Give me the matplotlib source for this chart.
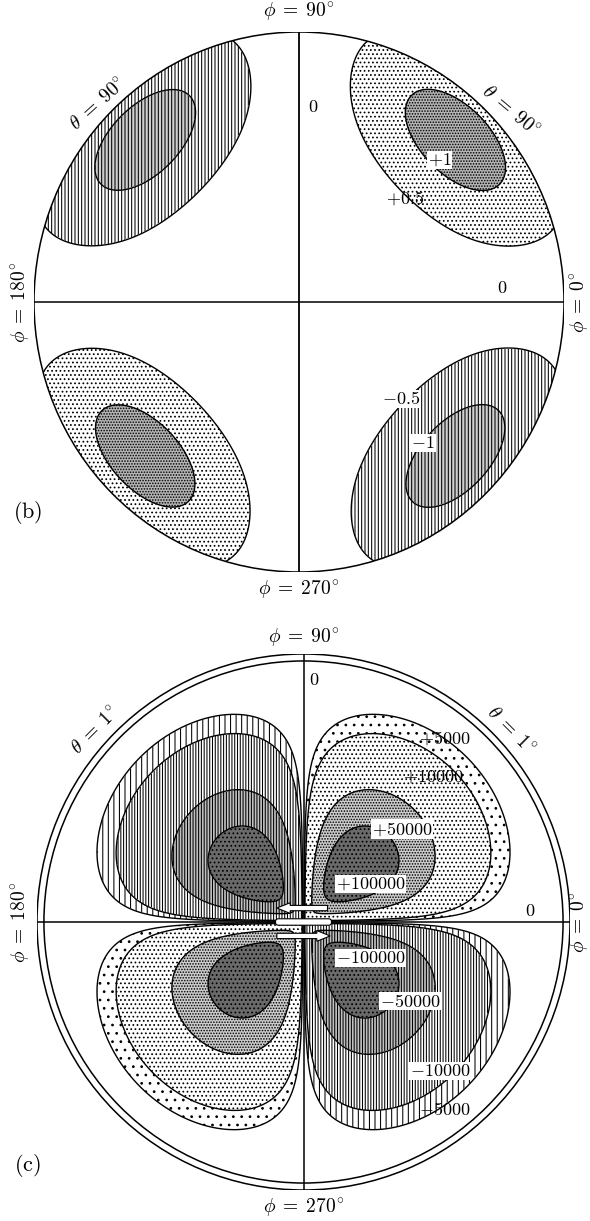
import numpy as np
import matplotlib
matplotlib.use("Agg")
import matplotlib.pyplot as plt
from matplotlib.patches import Circle, FancyArrow, FancyBboxPatch

plt.rcParams["mathtext.fontset"] = "cm"
plt.rcParams["font.family"] = "serif"
plt.rcParams["font.serif"] = ["cmr10", "DejaVu Serif"]
plt.rcParams["hatch.color"] = "black"
plt.rcParams["hatch.linewidth"] = 0.75

# panel (b): four elliptical lobes, positions in units of the circle radius
lobe_x = [0.59, -0.58, -0.58, 0.59]
lobe_y = [0.60, 0.60, -0.57, -0.57]
lobe_sign = [1, -1, 1, -1]
lobe_peak = 1.2
lobe_sigma_tan = 0.39
lobe_sigma_rad = 0.21
levels_b = [-10, -1, -0.5, 0.5, 1, 10]
colors_b = ["#cfcfcf", "white", "white", "white", "#b4b4b4"]
hatches_b = ["|||||", "|||||", "", "....", "......"]
line_levels_b = [-1, -0.5, 0.5, 1]

# panel (c): sin(2 phi) petals with a peaked radial profile
petal_peak = 145000
petal_r0 = 0.27
petal_k = 6.6
inner_ring = 0.974
levels_c = [-1e9, -100000, -50000, -10000, -5000, 5000, 10000, 50000, 100000, 1e9]
colors_c = ["#6a6a6a", "#c0c0c0", "white", "white", "white",
            "white", "white", "#cccccc", "#6a6a6a"]
hatches_c = ["....", "||||||", "||||||", "|||", "", "..", "....", "......", "...."]
line_levels_c = [-100000, -50000, -10000, -5000, 5000, 10000, 50000, 100000]

# white markers at the singular centre of (c): (y, x_start, x_end, head)
centre_marks = [(0.052, 0.09, -0.10, "left"), (0.0, -0.105, 0.105, "none"),
                (-0.052, -0.10, 0.10, "right")]

# value labels: (text, x, y, boxed)
labels_b = [("0", 0.053, 0.722, False), ("0", 0.766, 0.052, False),
            ("+1", 0.532, 0.526, True), ("+0.5", 0.40, 0.385, False),
            ("-0.5", 0.385, -0.359, True), ("-1", 0.468, -0.522, True)]
labels_c = [("0", 0.039, 0.903, False), ("0", 0.85, 0.041, False),
            ("+5000", 0.53, 0.687, False), ("+10000", 0.486, 0.541, False),
            ("+50000", 0.37, 0.347, True), ("+100000", 0.253, 0.142, True),
            ("-100000", 0.253, -0.134, True), ("-50000", 0.40, -0.295, True),
            ("-10000", 0.512, -0.556, True), ("-5000", 0.53, -0.698, False)]

fig = plt.figure(figsize=(5.9, 12.21), dpi=100)
W, H = 590, 1221


def make_axes(cx, cy, rx, ry):
    ax = fig.add_axes([(cx - rx) / W, (H - cy - ry) / H, 2 * rx / W, 2 * ry / H])
    ax.set_xlim(-1, 1)
    ax.set_ylim(-1, 1)
    ax.axis("off")
    return ax


n = 601
xs = np.linspace(-1, 1, n)
X, Y = np.meshgrid(xs, xs)
R = np.hypot(X, Y)
PHI = np.arctan2(Y, X)


def put_labels(ax, labels):
    for txt, x, y, boxed in labels:
        bbox = dict(facecolor="white", edgecolor="none", pad=0.5) if boxed else None
        ax.text(x, y, "$" + txt + "$", fontsize=13, ha="center", va="center",
                bbox=bbox, zorder=6)


def angle_text(ax, sym, val, x, y, rot=0, size=14):
    ax.text(x, y, r"$%s\;=\;%s^{\circ}$" % (sym, val), rotation=rot,
            fontsize=size, ha="center", va="center")


def frame_text(ax, y_top, y_bot, x_left, x_right):
    angle_text(ax, r"\phi", "90", 0, y_top)
    angle_text(ax, r"\phi", "270", 0, y_bot)
    angle_text(ax, r"\phi", "180", x_left, 0, rot=90)
    angle_text(ax, r"\phi", "0", x_right, 0, rot=90)


# ---- (b)
axb = make_axes(299, 302, 265, 270)
Zb = np.zeros_like(X)
for x0, y0, s in zip(lobe_x, lobe_y, lobe_sign):
    ang = np.arctan2(y0, x0)
    dx, dy = X - x0, Y - y0
    rad = dx * np.cos(ang) + dy * np.sin(ang)
    tan = -dx * np.sin(ang) + dy * np.cos(ang)
    Zb += s * lobe_peak * np.exp(-0.5 * ((rad / lobe_sigma_rad) ** 2 +
                                         (tan / lobe_sigma_tan) ** 2))
Zb[R > 1.01] = np.nan
cf = axb.contourf(X, Y, Zb, levels=levels_b, colors=colors_b, hatches=hatches_b)
cf.set_clip_path(Circle((0, 0), 1, transform=axb.transData))
cl = axb.contour(X, Y, Zb, levels=line_levels_b, colors="black", linewidths=1.0,
                 negative_linestyles="solid")
cl.set_clip_path(Circle((0, 0), 1, transform=axb.transData))
axb.add_patch(Circle((0, 0), 1, fill=False, lw=1.1, ec="black", zorder=4))
axb.plot([-1, 1], [0, 0], color="black", lw=1.1, zorder=4)
axb.plot([0, 0], [-1, 1], color="black", lw=1.3, zorder=4)
put_labels(axb, labels_b)
frame_text(axb, 1.074, -1.067, -1.049, 1.06)
angle_text(axb, r"\theta", "90", -0.758, 0.733, rot=42)
angle_text(axb, r"\theta", "90", 0.796, 0.704, rot=-40)
axb.text(-1.023, -0.778, r"$\mathrm{(b)}$", fontsize=16, ha="center", va="center")

# ---- (c)
axc = make_axes(303.5, 922, 266.5, 268)
a = 2 * petal_k * petal_r0 ** 2
g = petal_peak * (R / petal_r0) ** a * np.exp(-petal_k * (R ** 2 - petal_r0 ** 2))
Zc = np.sin(2 * PHI) * g
Zc[R > inner_ring + 0.01] = np.nan
cf = axc.contourf(X, Y, Zc, levels=levels_c, colors=colors_c, hatches=hatches_c)
cf.set_clip_path(Circle((0, 0), inner_ring, transform=axc.transData))
cl = axc.contour(X, Y, Zc, levels=line_levels_c, colors="black", linewidths=1.0,
                 negative_linestyles="solid")
cl.set_clip_path(Circle((0, 0), inner_ring, transform=axc.transData))
axc.add_patch(Circle((0, 0), 1, fill=False, lw=1.1, ec="black", zorder=4))
axc.add_patch(Circle((0, 0), inner_ring, fill=False, lw=1.1, ec="black", zorder=4))
axc.plot([-1, 1], [0, 0], color="black", lw=1.1, zorder=4)
axc.plot([0, 0], [-1, 1], color="black", lw=1.1, zorder=4)
for y0, x_start, x_end, head in centre_marks:
    if head == "none":
        axc.add_patch(FancyBboxPatch((x_start, y0 - 0.012), x_end - x_start, 0.024,
                                     boxstyle="round,pad=0.0,rounding_size=0.01",
                                     fc="white", ec="black", lw=0.8, zorder=5))
    else:
        axc.add_patch(FancyArrow(x_start, y0, x_end - x_start, 0, width=0.02,
                                 head_width=0.04, head_length=0.05,
                                 length_includes_head=True,
                                 fc="white", ec="black", lw=0.8, zorder=5))
put_labels(axc, labels_c)
frame_text(axc, 1.06, -1.067, -1.06, 1.035)
angle_text(axc, r"\theta", "1", -0.779, 0.713, rot=45)
angle_text(axc, r"\theta", "1", 0.775, 0.713, rot=-45)
axc.text(-1.034, -0.91, r"$\mathrm{(c)}$", fontsize=16, ha="center", va="center")

fig.savefig("out.png", dpi=100)
